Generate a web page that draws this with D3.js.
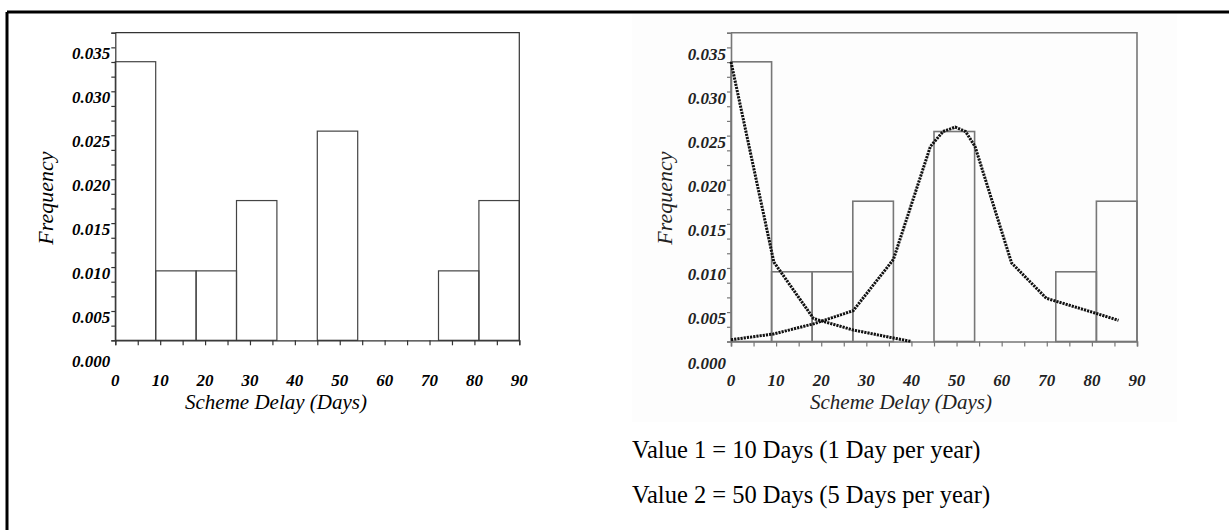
<!DOCTYPE html>
<html><head><meta charset="utf-8">
<script src="https://cdn.jsdelivr.net/npm/d3@7"></script>
<style>
html,body{margin:0;padding:0;background:#fff;}
svg{display:block;}
</style></head>
<body>
<svg id="chart" width="1229" height="530"></svg>
<script>
// ---- data ----
const binEdges = [0, 9, 18, 27, 36, 45, 54, 63, 72, 81, 90];
const binFreq = [0.0317, 0.0079, 0.0079, 0.0159, 0, 0.0238, 0, 0, 0.0079, 0.0159];
const xTickValues = [0, 10, 20, 30, 40, 50, 60, 70, 80, 90];
const yTickValues = [0, 0.005, 0.010, 0.015, 0.020, 0.025, 0.030, 0.035];
const yTickLabels = ["0.000", "0.005", "0.010", "0.015", "0.020", "0.025", "0.030", "0.035"];
const curve1Days = [0, 9.5, 18.3, 27.1, 36, 40];
const curve1Freq = [0.0317, 0.0090, 0.0026, 0.0013, 0.0004, 0];
const curve2Days = [0, 9.4, 18.3, 27.1, 36, 44.2, 47, 49.7, 52, 54.1, 62.2, 69.9, 79.6, 85.9];
const curve2Freq = [0.0002, 0.00085, 0.0020, 0.0035, 0.0093, 0.0221, 0.0238, 0.0243, 0.0238, 0.0221, 0.0089, 0.0049, 0.0034, 0.0024];
const xTitle = "Scheme Delay (Days)";
const yTitle = "Frequency";
const notes = ["Value 1 = 10 Days (1 Day per year)", "Value 2 = 50 Days (5 Days per year)"];

const svg = d3.select("#chart");

// outer frame (top & left edges visible)
svg.append("line").attr("x1", 7).attr("y1", 12).attr("x2", 1229).attr("y2", 12)
  .attr("stroke", "#000").attr("stroke-width", 3);
svg.append("line").attr("x1", 7).attr("y1", 12).attr("x2", 7).attr("y2", 530)
  .attr("stroke", "#000").attr("stroke-width", 3);

// raster-like background of right figure
svg.append("rect").attr("x", 632).attr("y", 14).attr("width", 545).attr("height", 408)
  .attr("fill", "#fdfdfd");

function drawChart(o) {
  const x = d3.scaleLinear().domain([0, 90]).range([o.left, o.right]);
  const y = d3.scaleLinear().domain([0, 0.035]).range([o.bottom, o.top]);
  const g = svg.append("g");

  // bars
  g.selectAll("rect.bar").data(binFreq.map((f, i) => ({f, i})).filter(d => d.f > 0))
    .enter().append("rect")
    .attr("x", d => x(binEdges[d.i]))
    .attr("y", d => y(d.f))
    .attr("width", d => x(binEdges[d.i + 1]) - x(binEdges[d.i]))
    .attr("height", d => y(0) - y(d.f))
    .attr("fill", "none").attr("stroke", o.barColor).attr("stroke-width", o.barWidth);

  // frame top & right
  g.append("path")
    .attr("d", `M${x(0)},${y(0.035)}H${x(90)}V${y(0)}`)
    .attr("fill", "none").attr("stroke", o.frameColor).attr("stroke-width", o.frameWidth);

  // x axis
  const xa = d3.axisBottom(x).tickValues(d3.range(0, 91, 5)).tickSize(5).tickFormat("");
  const gx = g.append("g").attr("transform", `translate(0,${y(0)})`).call(xa);
  gx.select(".domain").attr("stroke", o.frameColor).attr("stroke-width", o.frameWidth);
  gx.selectAll(".tick line").attr("stroke", o.frameColor).attr("stroke-width", 1.2);

  // y axis
  const ya = d3.axisLeft(y).tickValues(d3.range(0, 22).map(i => i * 0.035 / 21)).tickSize(4).tickFormat("");
  const gy = g.append("g").attr("transform", `translate(${x(0)},0)`).call(ya);
  gy.select(".domain").attr("stroke", o.frameColor).attr("stroke-width", o.frameWidth);
  gy.selectAll(".tick line").attr("stroke", o.frameColor).attr("stroke-width", 1.2);

  const lab = {
    "font-family": "'Liberation Serif', 'Times New Roman', serif",
    "font-style": "italic", "font-weight": "bold", "font-size": "17px",
    "fill": o.textColor
  };
  // y tick labels (shifted below their ticks as in original)
  g.selectAll("text.yl").data(yTickValues).enter().append("text")
    .attr("x", x(0) - 5).attr("y", d => y(d) + o.yLabOff)
    .attr("text-anchor", "end").attr("dominant-baseline", "central")
    .text((d, i) => yTickLabels[i]).each(function(){ const s = d3.select(this); for (const k in lab) s.attr(k, lab[k]); });
  // x tick labels
  g.selectAll("text.xl").data(xTickValues).enter().append("text")
    .attr("x", d => x(d)).attr("y", y(0) + o.xLabOff)
    .attr("text-anchor", "middle").attr("dominant-baseline", "central")
    .text(d => d).each(function(){ const s = d3.select(this); for (const k in lab) s.attr(k, lab[k]); });

  // titles
  g.append("text").attr("x", o.xTitleX).attr("y", o.xTitleY)
    .attr("text-anchor", "middle").attr("dominant-baseline", "central")
    .attr("font-family", "'Liberation Serif', 'Times New Roman', serif")
    .attr("font-style", "italic").attr("font-size", "21px").attr("fill", o.textColor)
    .text(xTitle);
  g.append("text").attr("transform", `translate(${o.yTitleX},${o.yTitleY}) rotate(-90)`)
    .attr("text-anchor", "middle").attr("dominant-baseline", "central")
    .attr("font-family", "'Liberation Serif', 'Times New Roman', serif")
    .attr("font-style", "italic").attr("font-size", "22px").attr("fill", o.textColor)
    .text(yTitle);

  if (o.curves) {
    const line = d3.line().x(d => x(d[0])).y(d => y(d[1]));
    [[curve1Days, curve1Freq], [curve2Days, curve2Freq]].forEach(([ds, fs]) => {
      g.append("path").datum(ds.map((d, i) => [d, fs[i]]))
        .attr("d", line).attr("fill", "none")
        .attr("stroke", "#111").attr("stroke-width", 3)
        .attr("stroke-dasharray", "2.2,1");
    });
  }
}

drawChart({left: 115.3, right: 519.3, top: 32.7, bottom: 340.3,
  barColor: "#444", barWidth: 1.2, frameColor: "#333", frameWidth: 1.2, textColor: "#000",
  yLabOff: 21, xLabOff: 40, xTitleX: 276, xTitleY: 402, yTitleX: 45, yTitleY: 198, curves: false});

drawChart({left: 731, right: 1137, top: 32.7, bottom: 341.5,
  barColor: "#777", barWidth: 1.6, frameColor: "#777", frameWidth: 1.6, textColor: "#222",
  yLabOff: 21.5, xLabOff: 38.5, xTitleX: 901, xTitleY: 402, yTitleX: 664, yTitleY: 198, curves: true});

svg.selectAll("text.note").data(notes).enter().append("text")
  .attr("x", 632).attr("y", (d, i) => 458 + i * 45)
  .attr("font-family", "'Liberation Serif', 'Times New Roman', serif")
  .attr("font-size", "24.5px").attr("fill", "#000")
  .text(d => d);
</script>
</body></html>
